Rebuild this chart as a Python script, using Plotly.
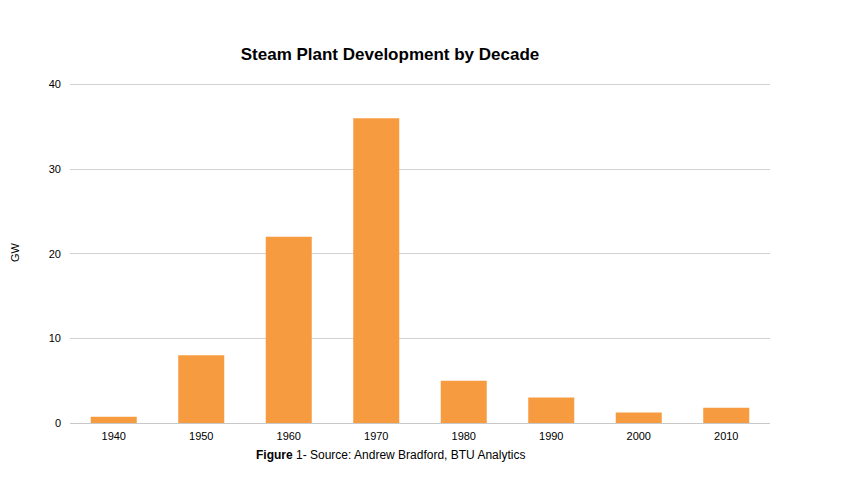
import plotly.graph_objects as go

decades = ["1940", "1950", "1960", "1970", "1980", "1990", "2000", "2010"]
gw = [0.75, 8, 22, 36, 5, 3, 1.25, 1.8]
y_ticks = [0, 10, 20, 30, 40]

fig = go.Figure(
    go.Bar(
        x=decades,
        y=gw,
        marker=dict(color="#F79B41", line=dict(width=0)),
        hoverinfo="x+y",
    )
)

# page body adds an 8px offset, so margins are shifted to compensate
plot_h = 480 - 73 - 65
fig.update_layout(
    width=846,
    height=480,
    margin=dict(l=62, r=84, t=73, b=65),
    paper_bgcolor="white",
    plot_bgcolor="white",
    bargap=0.474,
    showlegend=False,
    font=dict(family="Liberation Sans, Arial, sans-serif", size=11, color="black"),
    title=dict(
        text="<b>Steam Plant Development by Decade</b>",
        x=382 / 846,
        xanchor="center",
        y=1 - 46 / 480,
        yanchor="middle",
        font=dict(size=17, color="black"),
    ),
)

fig.update_xaxes(
    type="category",
    showgrid=False,
    showline=False,
    ticks="",
    ticklabelstandoff=5,
    tickfont=dict(size=11),
)

# small headroom above 40 so the top gridline is drawn
fig.update_yaxes(
    range=[0, 40.4],
    tickvals=y_ticks,
    showgrid=True,
    gridcolor="#d2d2d2",
    gridwidth=1,
    zeroline=True,
    zerolinecolor="#c8c8c8",
    zerolinewidth=1,
    ticks="",
    ticklabelstandoff=8,
    tickfont=dict(size=11),
)

fig.add_annotation(
    text="GW",
    textangle=-90,
    xref="paper", yref="paper",
    x=(15 - 70) / 700, xanchor="center",
    y=(423 - 252) / plot_h, yanchor="middle",
    showarrow=False,
    font=dict(size=11),
)

fig.add_annotation(
    text="<b>Figure</b> 1- Source: Andrew Bradford, BTU Analytics",
    xref="paper", yref="paper",
    x=(390 - 70) / 700, xanchor="center",
    y=-(455 - 423) / plot_h, yanchor="middle",
    showarrow=False,
    font=dict(size=12),
)

fig.write_html("out.html")
